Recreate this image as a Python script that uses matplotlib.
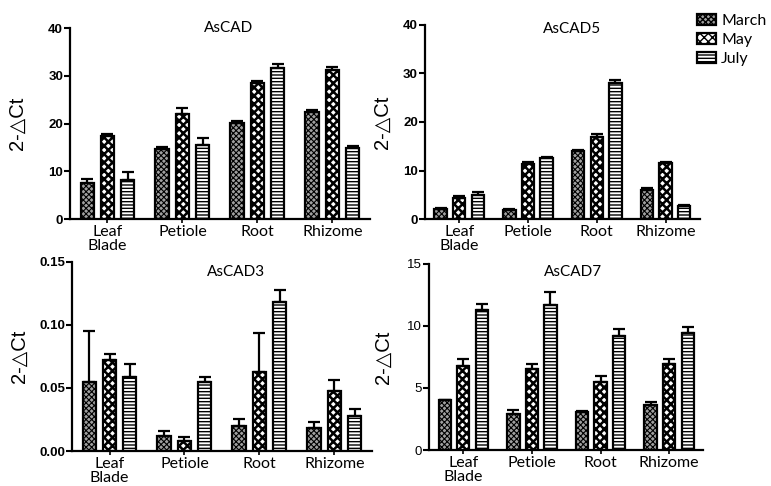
import numpy as np
import matplotlib
matplotlib.use('Agg')
import matplotlib.pyplot as plt
from matplotlib.patches import Patch

tissues = ['Leaf\nBlade', 'Petiole', 'Root', 'Rhizome']
months = ['March', 'May', 'July']

# AsCAD
cad_mean = [[7.5, 14.8, 20.2, 22.5],
            [17.5, 22.0, 28.5, 31.3],
            [8.3, 15.5, 31.7, 15.0]]
cad_err = [[1.0, 0.4, 0.3, 0.3],
           [0.3, 1.3, 0.5, 0.5],
           [1.5, 1.6, 0.9, 0.4]]
# AsCAD5
cad5_mean = [[2.1, 1.9, 14.0, 6.0],
             [4.4, 11.3, 17.0, 11.5],
             [5.0, 12.5, 28.0, 2.7]]
cad5_err = [[0.2, 0.1, 0.3, 0.5],
            [0.4, 0.5, 0.5, 0.3],
            [0.5, 0.3, 0.6, 0.2]]
# AsCAD3
cad3_mean = [[0.055, 0.012, 0.020, 0.018],
             [0.072, 0.008, 0.063, 0.048],
             [0.059, 0.055, 0.118, 0.028]]
cad3_err = [[0.040, 0.004, 0.005, 0.005],
            [0.005, 0.003, 0.031, 0.008],
            [0.010, 0.004, 0.010, 0.005]]
# AsCAD7
cad7_mean = [[4.0, 2.9, 3.1, 3.6],
             [6.8, 6.5, 5.5, 6.9],
             [11.3, 11.7, 9.2, 9.4]]
cad7_err = [[0.05, 0.3, 0.05, 0.3],
            [0.5, 0.45, 0.45, 0.4],
            [0.5, 1.0, 0.55, 0.55]]

hatches = ['xxxxxx', 'xxxx', '-----']
faces = ['#a0a0a0', 'white', 'white']
hatch_lw = [0.8, 1.8, 1.0]

fig = plt.figure(figsize=(7.71, 4.86), dpi=100)

panels = [
    # rect, title, means, errs, ticks, ticklabels, title pos, label x, bold ticks
    ([0.0908, 0.549, 0.389, 0.393], 'AsCAD', cad_mean, cad_err,
     [0, 10, 20, 30, 40], ['0', '10', '20', '30', '40'], (0.53, 1.0), -0.143, True),
    ([0.551, 0.549, 0.357, 0.400], 'AsCAD5', cad5_mean, cad5_err,
     [0, 10, 20, 30, 40], ['0', '10', '20', '30', '40'], (0.535, 0.98), -0.12, True),
    ([0.0934, 0.072, 0.389, 0.389], 'AsCAD3', cad3_mean, cad3_err,
     [0, 0.05, 0.10, 0.15], ['0.00', '0.05', '0.10', '0.15'], (0.547, 0.947), -0.143, True),
    ([0.5564, 0.074, 0.356, 0.383], 'AsCAD7', cad7_mean, cad7_err,
     [0, 5, 10, 15], ['0', '5', '10', '15'], (0.525, 0.957), -0.13, False),
]

x = np.arange(len(tissues))
width = 0.18
step = 0.27

def set_hlw(p, lw):
    if hasattr(p, 'set_hatch_linewidth'):
        p.set_hatch_linewidth(lw)

for rect, title, means, errs, yt, ytl, tpos, labx, bold in panels:
    ax = fig.add_axes(rect)
    for i in range(3):
        with plt.rc_context({'hatch.linewidth': hatch_lw[i]}):
            bars = ax.bar(x + (i - 1) * step, means[i], width,
                          yerr=[np.zeros(4), errs[i]],
                          color=faces[i], edgecolor='black', linewidth=1.6,
                          hatch=hatches[i],
                          error_kw=dict(ecolor='black', elinewidth=1.6, capsize=4, capthick=1.6))
        for b in bars:
            set_hlw(b, hatch_lw[i])
    ax.set_xlim(-0.5, 3.5)
    ax.set_ylim(yt[0], yt[-1])
    ax.set_yticks(yt)
    ax.set_yticklabels(ytl, fontfamily='Liberation Sans',
                       fontweight='bold' if bold else 'normal', fontsize=9.5)
    ax.set_xticks(x)
    ax.set_xticklabels(tissues, fontfamily='Lato', fontsize=11.5, linespacing=1.05)
    ax.tick_params(axis='x', length=3, width=1.2, pad=1)
    ax.tick_params(axis='y', length=4, width=1.5, pad=1)
    for s in ['top', 'right']:
        ax.spines[s].set_visible(False)
    for s in ['left', 'bottom']:
        ax.spines[s].set_linewidth(1.6)
    ax.text(tpos[0], tpos[1], title, transform=ax.transAxes, ha='center',
            va='center', fontfamily='Lato', fontsize=11)
    ax.set_ylabel('2-\u25b3Ct', fontfamily=['Liberation Sans', 'DejaVu Sans'],
                  fontsize=14.5)
    ax.yaxis.set_label_coords(labx, 0.5)

handles = [Patch(facecolor=faces[i], edgecolor='black', hatch=hatches[i],
                 linewidth=1.6, label=months[i]) for i in range(3)]
fig.legend(handles=handles, loc='upper left', bbox_to_anchor=(0.896, 0.985),
           frameon=False, prop={'family': 'Lato', 'size': 11.5},
           handlelength=1.2, handleheight=0.7, handletextpad=0.3,
           labelspacing=0.3, borderaxespad=0)

fig.savefig('out.png', dpi=100)
